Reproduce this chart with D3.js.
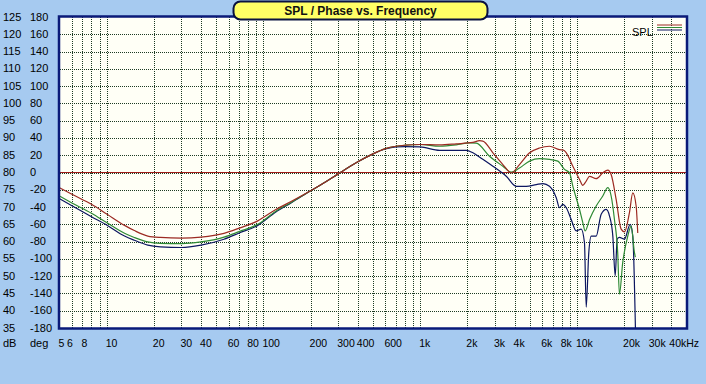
<!DOCTYPE html>
<html>
<head>
<meta charset="utf-8">
<script src="https://cdn.jsdelivr.net/npm/d3@7"></script>
<style>
  body { margin: 0; background: #a6caf0; }
  svg { display: block; }
</style>
</head>
<body>
<svg id="chart" width="706" height="384"></svg>
<script>
// axis labels
const dbTicks = [125, 120, 115, 110, 105, 100, 95, 90, 85, 80, 75, 70, 65, 60, 55, 50, 45, 40, 35]
const degTicks = [180, 160, 140, 120, 100, 80, 60, 40, 20, 0, -20, -40, -60, -80, -100, -120, -140, -160, -180]
const xTicks = [5, 6, 8, 10, 20, 30, 40, 60, 80, 100, 200, 300, 400, 600, 1000, 2000, 3000, 4000, 6000, 8000, 10000, 20000, 30000, 40000]
const xTickLabels = ['5', '6', '8', '10', '20', '30', '40', '60', '80', '100', '200', '300', '400', '600', '1k', '2k', '3k', '4k', '6k', '8k', '10k', '20k', '30k', '40kHz']

// SPL curves (Hz / dB)
const redFreq = [5, 6, 8, 10, 13, 15, 18.3, 22, 30, 40, 56, 70, 92, 120, 150, 200, 250, 300, 400, 500, 600, 700, 800, 1000, 1330, 1700, 2170, 2390, 2510, 2910, 3370, 3810, 4300, 4990, 5770, 6680, 7740, 8200, 8550, 9420, 10390, 10900, 11460, 12030, 13270, 14620, 15740, 16530, 17790, 19140, 20090, 21630, 22710, 23860, 24430]
const redSpl = [75.6, 73.7, 70.8, 68.0, 64.7, 63.2, 61.6, 61.2, 61.0, 61.3, 62.4, 63.9, 66.0, 69.3, 71.6, 74.7, 77.3, 79.6, 83.1, 85.4, 86.9, 87.6, 87.9, 88.1, 88.0, 88.3, 88.7, 89.2, 89.1, 85.7, 82.3, 79.9, 82.3, 85.7, 87.1, 87.6, 86.6, 86.5, 85.7, 81.8, 78.0, 76.3, 77.5, 78.9, 78.2, 79.9, 80.7, 79.4, 72.2, 63.6, 62.8, 68.4, 74.1, 70.3, 62.5]

const greenFreq = [5, 6, 8, 10, 13, 15, 18.3, 22, 30, 40, 56, 70, 92, 120, 150, 200, 250, 300, 400, 500, 600, 700, 800, 1000, 1330, 1700, 2070, 2280, 2770, 3370, 3810, 4300, 4990, 5770, 6680, 7550, 8330, 8970, 9420, 10390, 10900, 11290, 12030, 13270, 14620, 15740, 16530, 17350, 18200, 18670, 19590, 21100, 22180, 23280, 23600]
const greenSpl = [73.2, 71.2, 68.2, 65.5, 62.4, 61.2, 59.9, 59.5, 59.4, 59.9, 61.3, 62.9, 65.0, 68.8, 71.3, 74.7, 77.3, 79.6, 83.1, 85.4, 86.9, 87.6, 87.9, 88.1, 87.6, 88.0, 88.6, 88.5, 84.7, 81.8, 80.1, 81.3, 83.3, 84.0, 83.8, 83.3, 80.9, 79.9, 76.0, 69.3, 65.5, 63.1, 66.4, 70.3, 73.2, 75.6, 73.2, 66.4, 56.8, 44.8, 53.9, 61.6, 64.5, 56.8, 55.5]

const navyFreq = [5, 6, 8, 10, 13, 15, 18.3, 22, 30, 40, 56, 70, 92, 120, 150, 200, 250, 300, 400, 500, 600, 700, 800, 1000, 1330, 1970, 2170, 2510, 2910, 3540, 4100, 4750, 5500, 6070, 6680, 7380, 7740, 8130, 8550, 9190, 9890, 10650, 11170, 11460, 11900, 12340, 13270, 14280, 15370, 16140, 16940, 17540, 18060, 18670, 20090, 21860, 22710, 23610]
const navySpl = [72.4, 70.4, 67.2, 64.8, 61.6, 60.4, 59.0, 58.5, 58.3, 59.0, 60.7, 62.5, 64.7, 68.6, 71.2, 74.7, 77.3, 79.6, 83.1, 85.4, 86.8, 87.4, 87.5, 87.4, 86.4, 86.4, 85.7, 83.8, 81.8, 78.9, 76.0, 76.0, 76.5, 76.8, 76.0, 72.7, 69.8, 70.8, 69.8, 66.4, 63.1, 63.6, 59.7, 41.0, 56.8, 61.6, 61.6, 67.9, 69.3, 67.4, 61.6, 50.1, 60.7, 61.2, 60.7, 65.0, 61.6, 35]

// phase (deg), flat
const phaseFreq = [5, 50000]
const phaseDeg = [0, 0]

const svg = d3.select('#chart')
const W = 706, H = 384
const plot = { left: 59.5, right: 686.5, top: 17, bottom: 328 }

svg.append('rect').attr('width', W).attr('height', H).attr('fill', '#a6caf0')

const x = d3.scaleLog().domain([5, 50000]).range([plot.left, plot.right])
const y = d3.scaleLinear().domain([35, 125]).range([plot.bottom, plot.top])
const yDeg = d3.scaleLinear().domain([-180, 180]).range([plot.bottom, plot.top])

// plot background
svg.append('rect')
  .attr('x', plot.left).attr('y', plot.top)
  .attr('width', plot.right - plot.left).attr('height', plot.bottom - plot.top)
  .attr('fill', '#fffff6')

// grid
const grid = svg.append('g').attr('stroke', '#1c3a22').attr('stroke-width', 1)
  .attr('stroke-dasharray', '1,1').attr('shape-rendering', 'crispEdges')
const vLines = []
for (let p = 1; p <= 10000; p *= 10) {
  for (let k = 1; k <= 9; k++) {
    const f = k * p
    if (f > 5 && f < 50000) vLines.push(f)
  }
}
grid.selectAll('line.v').data(vLines).join('line')
  .attr('x1', d => Math.round(x(d)) + 0.5).attr('x2', d => Math.round(x(d)) + 0.5)
  .attr('y1', plot.top).attr('y2', plot.bottom)
grid.selectAll('line.h').data(dbTicks.filter(d => d > 35 && d < 125)).join('line')
  .attr('y1', d => Math.round(y(d)) + 0.5).attr('y2', d => Math.round(y(d)) + 0.5)
  .attr('x1', plot.left).attr('x2', plot.right)

const clip = svg.append('clipPath').attr('id', 'clip')
clip.append('rect')
  .attr('x', plot.left).attr('y', plot.top)
  .attr('width', plot.right - plot.left).attr('height', plot.bottom - plot.top)

const curves = svg.append('g').attr('clip-path', 'url(#clip)')

// phase line
const phaseLine = d3.line().x(d => x(d[0])).y(d => yDeg(d[1]))
curves.append('path')
  .datum(d3.zip(phaseFreq, phaseDeg))
  .attr('fill', 'none').attr('stroke', '#a01c18').attr('stroke-width', 1.2)
  .attr('d', phaseLine)

const splLine = d3.line().x(d => x(d[0])).y(d => y(d[1])).curve(d3.curveMonotoneX)
const series = [
  { f: navyFreq, v: navySpl, color: '#0c1660' },
  { f: greenFreq, v: greenSpl, color: '#2f8a35' },
  { f: redFreq, v: redSpl, color: '#9c2a22' }
]
series.forEach(s => {
  curves.append('path')
    .datum(d3.zip(s.f, s.v))
    .attr('fill', 'none')
    .attr('stroke', s.color)
    .attr('stroke-width', 1.2)
    .attr('stroke-linejoin', 'round')
    .attr('d', splLine)
})

// frame
svg.append('rect')
  .attr('x', plot.left - 0.5).attr('y', plot.top - 0.5)
  .attr('width', plot.right - plot.left + 1).attr('height', plot.bottom - plot.top + 1)
  .attr('fill', 'none').attr('stroke', '#0a1a78').attr('stroke-width', 2.5)

// y labels
const font = '"Liberation Sans", Arial, sans-serif'
const lbl = svg.append('g').attr('font-family', font).attr('font-size', 11).attr('fill', '#000')
lbl.selectAll('text.db').data(dbTicks).join('text')
  .attr('x', 3).attr('y', d => y(d) + 3.5).text(d => d)
lbl.selectAll('text.deg').data(degTicks).join('text')
  .attr('x', 30).attr('y', d => yDeg(d) + 3.5).text(d => d)
lbl.append('text').attr('x', 3).attr('y', 346.5).text('dB')
lbl.append('text').attr('x', 30).attr('y', 346.5).text('deg')

// x labels (small nudges where the original shifts labels)
const nudge = { '6': -4, '8': -9, '30k': -2, '40kHz': -1 }
lbl.selectAll('text.x').data(xTicks).join('text')
  .attr('x', (d, i) => x(d) - 1 + (nudge[xTickLabels[i]] || 0))
  .attr('y', 346.5)
  .attr('font-size', 10.5)
  .text((d, i) => xTickLabels[i])

// title
svg.append('rect')
  .attr('x', 233.5).attr('y', 1.5).attr('width', 254).attr('height', 18).attr('rx', 7)
  .attr('fill', '#ffff66').attr('stroke', '#0a1240').attr('stroke-width', 2)
svg.append('text')
  .attr('x', 360.5).attr('y', 15)
  .attr('text-anchor', 'middle')
  .attr('font-family', font).attr('font-size', 12).attr('font-weight', 'bold')
  .attr('fill', '#111')
  .text('SPL / Phase vs. Frequency')

// legend
const leg = svg.append('g')
leg.append('text').attr('x', 632).attr('y', 35.5)
  .attr('font-family', font).attr('font-size', 11).text('SPL')
const legColors = ['#9c2a22', '#2f8a35', '#0c1660']
leg.selectAll('line').data(legColors).join('line')
  .attr('x1', 657).attr('x2', 682)
  .attr('y1', (d, i) => 25 + i * 2.5).attr('y2', (d, i) => 25 + i * 2.5)
  .attr('stroke', d => d).attr('stroke-width', 1)
</script>
</body>
</html>
